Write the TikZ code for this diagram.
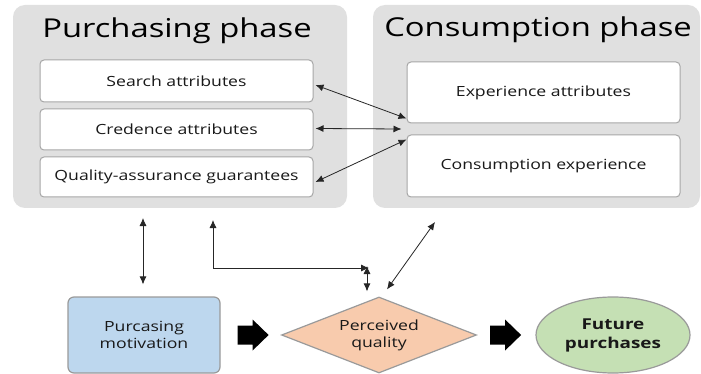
\documentclass[tikz,border=0pt]{standalone}
\usepackage{fontspec}
\setmainfont[FakeStretch=1.26]{Open Sans}
\usetikzlibrary{arrows.meta,shapes.geometric,calc}
\definecolor{panelgray}{HTML}{E0E0E0}
\definecolor{boxline}{HTML}{A6A6A6}
\definecolor{motivblue}{HTML}{BDD7EE}
\definecolor{qualorange}{HTML}{F8CBAD}
\definecolor{futgreen}{HTML}{C5E0B4}
\definecolor{shapeline}{HTML}{9A9A9A}
\tikzset{
  panel/.style={fill=panelgray, rounded corners=12pt},
  phasetitle/.style={font=\fontsize{26}{30}\selectfont, text=black, inner sep=0pt},
  attrbox/.style={draw=boxline, line width=1pt, fill=white, rounded corners=4pt,
    minimum width=273pt, inner sep=0pt, font=\fontsize{14}{17}\selectfont, text=black!90},
  linkarrow/.style={draw=black!85, line width=0.8pt, {Latex[length=8pt,width=7pt]}-{Latex[length=8pt,width=7pt]}},
  outcome/.style={draw=shapeline, line width=1.2pt, inner sep=0pt, align=center,
    font=\fontsize{14}{17}\selectfont, text=black!90},
  blockarrow/.pic={\fill[black] (0,-9.5) -- (15,-9.5) -- (15,-15.5) -- (31,0) -- (15,15.5) -- (15,9.5) -- (0,9.5) -- cycle;}
}
\begin{document}
\begin{tikzpicture}[x=1pt,y=-1pt]
  \useasboundingbox[fill=white] (0,0) rectangle (701,374);

  % phase panels
  \fill[panel] (13,5) rectangle (347,208);
  \fill[panel] (373,5) rectangle (700,208);
  \node[phasetitle] (pt) at (177,31) {Purchasing phase};
  \node[phasetitle] (ct) at (538,30) {Consumption phase};

  % attribute boxes
  \node[attrbox, minimum height=42pt] (search) at (176.5,81) {Search attributes};
  \node[attrbox, minimum height=41pt] (cred) at (176.5,129.5) {Credence attributes};
  \node[attrbox, minimum height=40pt] (qa) at (176.5,177) {Quality-assurance guarantees};
  \node[attrbox, minimum height=61pt] (exp) at (543.5,92.5) {Experience attributes};
  \node[attrbox, minimum height=62pt] (cons) at (543.5,166) {Consumption experience};

  % outcome row
  \node[outcome, rectangle, rounded corners=6pt, fill=motivblue,
        minimum width=152pt, minimum height=76pt] (motiv) at (144,335) {Purcasing\\motivation};
  \node[outcome, diamond, aspect=2.566, fill=qualorange,
        minimum width=195pt, minimum height=76pt] (qual) at (379,335) {Perceived\\quality};
  \node[outcome, ellipse, fill=futgreen, font=\fontsize{15}{19}\selectfont\bfseries,
        minimum width=154pt, minimum height=76pt] (fut) at (613,335) {Future\\purchases};

  % links between attribute boxes
  \coordinate (gap) at ($(exp.south west)!.5!(cons.north west)+(-5,0)$);
  \draw[linkarrow] ($(search.east)+(2,4)$) -- ($(exp.south west)+(0,-5)$);
  \draw[linkarrow] ($(cred.east)+(2,-1)$) -- (gap);
  \draw[linkarrow] ($(qa.east)+(2,5)$) -- ($(cons.north west)+(0,5)$);

  % links between phases and the outcome row
  \coordinate (mtop) at ($(motiv.north)+(-1,-12)$);
  \coordinate (ptop) at (143,218);
  \draw[linkarrow] (ptop) -- (mtop);
  \coordinate (elb) at (213,220);
  \coordinate (qin) at (369,268);
  \draw[linkarrow] (elb) |- (qin);
  \coordinate (qt1) at (367,266);
  \coordinate (qt2) at ($(qual.north)+(-12,-5)$);
  \draw[linkarrow] (qt1) -- (qt2);
  \coordinate (ctop) at (435,222);
  \coordinate (qt3) at ($(qual.north)+(8,-7)$);
  \draw[linkarrow] (ctop) -- (qt3);

  % block arrows along the outcome row
  \pic at ($(motiv.east)+(17,0)$) {blockarrow};
  \pic at ($(qual.east)+(13,0)$) {blockarrow};
\end{tikzpicture}
\end{document}
